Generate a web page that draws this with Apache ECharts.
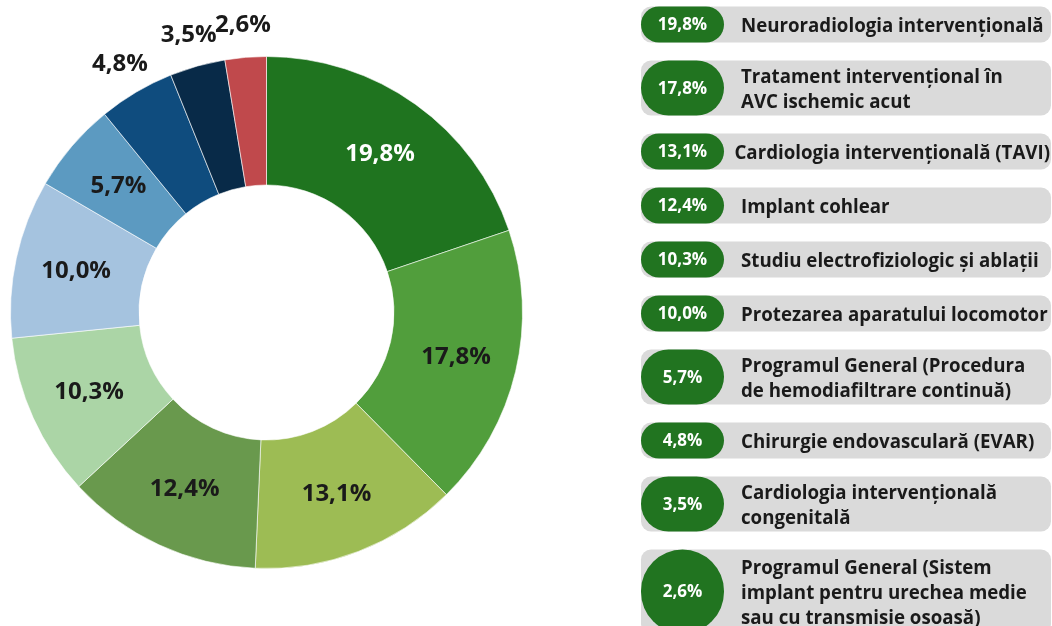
<!DOCTYPE html>
<html>
<head>
<meta charset="utf-8">
<script src="https://cdn.jsdelivr.net/npm/echarts@6/dist/echarts.min.js"></script>
<style>
  html, body { margin: 0; padding: 0; background: #fff; }
  #chart { width: 1052px; height: 626px; }
</style>
</head>
<body>
<div id="chart"></div>
<script>
// Share of each intervention programme (percent)
const categories = [
  'Neuroradiologia intervențională',
  'Tratament intervențional în\nAVC ischemic acut',
  'Cardiologia intervențională (TAVI)',
  'Implant cohlear',
  'Studiu electrofiziologic și ablații',
  'Protezarea aparatului locomotor',
  'Programul General (Procedura\nde hemodiafiltrare continuă)',
  'Chirurgie endovasculară (EVAR)',
  'Cardiologia intervențională\ncongenitală',
  'Programul General (Sistem\nimplant pentru urechea medie\nsau cu transmisie osoasă)'
];
const values = [19.8, 17.8, 13.1, 12.4, 10.3, 10.0, 5.7, 4.8, 3.5, 2.6];
const colors = ['#1f741f', '#519e3c', '#9dbc54', '#69994d', '#abd5a6',
                '#a5c3df', '#5c9ac1', '#0f4c7e', '#082a48', '#c0494c'];

const FONT = '"Open Sans", "Noto Sans", sans-serif';
const fmt = v => v.toFixed(1).replace('.', ',') + '%';
const OUTSIDE_BELOW = 5; // small slices carry their label outside the ring

const cx = 266.5, cy = 312.5;
const total = values.reduce((a, b) => a + b, 0);

const ringData = categories.map((name, i) => ({
  name,
  value: values[i],
  itemStyle: { color: colors[i] },
  label: {
    show: values[i] >= OUTSIDE_BELOW,
    color: i === 0 ? '#ffffff' : '#1a1a1a'
  }
}));

// Labels of the thin slices sit on a polar ring just outside the donut,
// at the middle angle of their slice.
const outerLabelData = [];
let cum = 0;
values.forEach((v, i) => {
  if (v < OUTSIDE_BELOW) outerLabelData.push({ value: [1, cum + v / 2], share: v });
  cum += v;
});

// Legend list on the right: grey bar, green pill with the share, name text
const rowHeights = { 1: 36, 2: 55, 3: 84 };
const legendX = 641, legendRight = 1051, pillW = 83, rowGap = 18;
const nameX = 741, nameFont = 'bold 18.7px ' + FONT;
const measureCtx = document.createElement('canvas').getContext('2d');
measureCtx.font = nameFont;
const textWidth = s => Math.max(...s.split('\n').map(l => measureCtx.measureText(l).width));

const graphics = [];
let rowTop = 6.5;
categories.forEach((name, i) => {
  const lines = name.split('\n').length;
  const h = rowHeights[lines];
  const mid = rowTop + h / 2;
  graphics.push({
    type: 'rect', silent: true,
    shape: { x: legendX, y: rowTop, width: legendRight - legendX, height: h, r: 10 },
    style: { fill: '#dadada' }
  });
  graphics.push({
    type: 'rect', silent: true,
    shape: { x: legendX, y: rowTop, width: pillW, height: h, r: h / 2 },
    style: { fill: '#217420' }
  });
  graphics.push({
    type: 'text', silent: true,
    x: legendX + pillW / 2, y: mid + 1,
    style: {
      text: fmt(values[i]), fill: '#ffffff',
      font: 'bold 17px ' + FONT, align: 'center', verticalAlign: 'middle'
    }
  });
  // long names slide left so they still end inside the bar
  const tx = Math.min(nameX, legendRight - 1 - textWidth(name));
  graphics.push({
    type: 'text', silent: true,
    x: tx, y: mid + 2,
    style: {
      text: name, fill: '#1a1a1a', lineHeight: 25,
      font: nameFont, align: 'left', verticalAlign: 'middle'
    }
  });
  rowTop += h + rowGap;
});

const chart = echarts.init(document.getElementById('chart'), null, { renderer: 'canvas' });
chart.setOption({
  animation: false,
  backgroundColor: '#ffffff',
  polar: { center: [cx, cy], radius: 288 },
  angleAxis: {
    type: 'value', min: 0, max: total, startAngle: 90, clockwise: true,
    show: false
  },
  radiusAxis: { type: 'value', min: 0, max: 1, show: false },
  series: [
    {
      type: 'pie',
      center: [cx, cy],
      radius: [127.5, 256],
      startAngle: 90,
      clockwise: true,
      avoidLabelOverlap: false,
      silent: true,
      itemStyle: { borderColor: '#ffffff', borderWidth: 0.6 },
      label: {
        position: 'inside',
        formatter: p => fmt(p.value),
        fontFamily: FONT, fontWeight: 'bold', fontSize: 24
      },
      labelLine: { show: false },
      data: ringData
    },
    {
      type: 'scatter',
      coordinateSystem: 'polar',
      symbolSize: 0,
      silent: true,
      itemStyle: { opacity: 1 },
      label: {
        show: true,
        position: 'inside',
        formatter: p => fmt(p.data.share),
        color: '#1a1a1a',
        opacity: 1,
        padding: [2, 0],
        fontFamily: FONT, fontWeight: 'bold', fontSize: 24
      },
      // stack neighbouring labels so they do not touch
      labelLayout: { moveOverlap: 'shiftY' },
      data: outerLabelData
    }
  ],
  graphic: graphics
});
</script>
</body>
</html>
